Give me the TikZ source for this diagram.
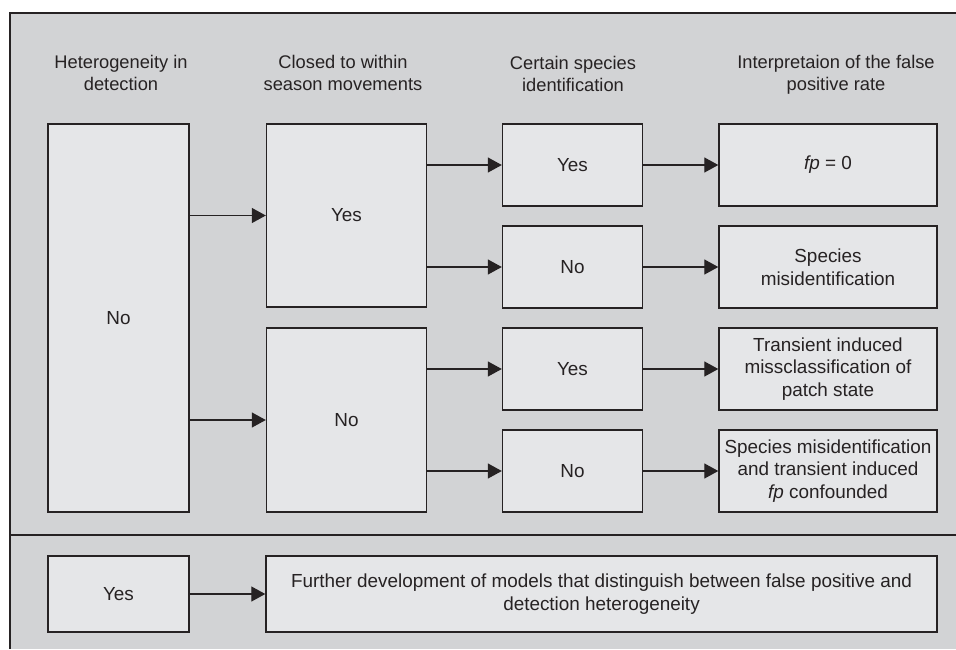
\documentclass[tikz,border=0pt]{standalone}
\usepackage{fontspec}
\setmainfont{Liberation Sans}
\usetikzlibrary{arrows.meta}

\definecolor{panel}{RGB}{210,211,213}
\definecolor{boxfill}{RGB}{229,230,232}
\definecolor{ink}{RGB}{38,34,35}

\tikzset{
	choice/.style={draw=ink, fill=boxfill, line width=1.4pt, inner sep=0pt, align=center, text=ink, font=\fontsize{18.9}{22.5}\selectfont},
	heading/.style={inner sep=0pt, align=center, text=ink},
	flow/.style={draw=ink, line width=1.3pt, -{Triangle[length=14pt,width=15pt]}}
}

\begin{document}
\begin{tikzpicture}[x=1pt,y=1pt,yscale=-1,xscale=1,font=\fontsize{18.3}{22.5}\selectfont]
		\useasboundingbox (0,0) rectangle (956,649);

		% Grey panel, open on the right and at the bottom
		\fill[panel] (10,13) rectangle (956,649);
		\draw[ink, line width=1.4pt] (956,13) -- (10,13) -- (10,649);

		% Line that splits the lower row off
		\draw[ink, line width=1.4pt] (10,535) -- (956,535);

		% Column headings
		\node[heading] (hhet) at (121,73) {Heterogeneity in\\detection};
		\node[heading] (hclo) at (343,73) {Closed to within\\season movements};
		\node[heading] (hcer) at (573,74) {Certain species\\identification};
		\node[heading] (hint) at (836,75) {Interpretaion of the false\\positive rate};

		% First column
		\node[choice, minimum width=141pt, minimum height=388pt] (hetno) at (118.5,318) {No};

		% Second column
		\node[choice, minimum width=160pt, minimum height=183pt] (cloyes) at (346.5,215.5) {Yes};
		\node[choice, minimum width=160pt, minimum height=184pt] (clono) at (346.5,420) {No};

		% Third column
		\node[choice, minimum width=140pt, minimum height=82pt] (ceryesa) at (572.5,165) {Yes};
		\node[choice, minimum width=140pt, minimum height=82pt] (cernoa) at (572.5,267) {No};
		\node[choice, minimum width=140pt, minimum height=82pt] (ceryesb) at (572.5,369) {Yes};
		\node[choice, minimum width=140pt, minimum height=82pt] (cernob) at (572.5,471) {No};

		% Fourth column
		\node[choice, minimum width=218pt, minimum height=82pt] (fpzero) at (828,165) {\textit{fp} = 0};
		\node[choice, minimum width=218pt, minimum height=82pt] (misid) at (828,267) {Species\\misidentification};
		\node[choice, minimum width=218pt, minimum height=82pt] (trans) at (828,369) {Transient induced\\missclassification of\\patch state};
		\node[choice, minimum width=218pt, minimum height=82pt] (confd) at (828,471) {Species misidentification\\and transient induced\\\textit{fp} confounded};

		% Lower row
		\node[choice, minimum width=141pt, minimum height=76pt] (hetyes) at (118.5,594) {Yes};
		\node[choice, minimum width=671pt, minimum height=76pt] (further) at (601.5,594) {Further development of models that distinguish between false positive and\\detection heterogeneity};

		% Arrows
		\draw[flow] (hetno.east |- cloyes.west) -- (cloyes.west);
		\draw[flow] (hetno.east |- clono.west) -- (clono.west);
		\draw[flow] (cloyes.east |- ceryesa.west) -- (ceryesa.west);
		\draw[flow] (cloyes.east |- cernoa.west) -- (cernoa.west);
		\draw[flow] (clono.east |- ceryesb.west) -- (ceryesb.west);
		\draw[flow] (clono.east |- cernob.west) -- (cernob.west);
		\draw[flow] (ceryesa) -- (fpzero);
		\draw[flow] (cernoa) -- (misid);
		\draw[flow] (ceryesb) -- (trans);
		\draw[flow] (cernob) -- (confd);
		\draw[flow] (hetyes) -- (further);
	\end{tikzpicture}
\end{document}
